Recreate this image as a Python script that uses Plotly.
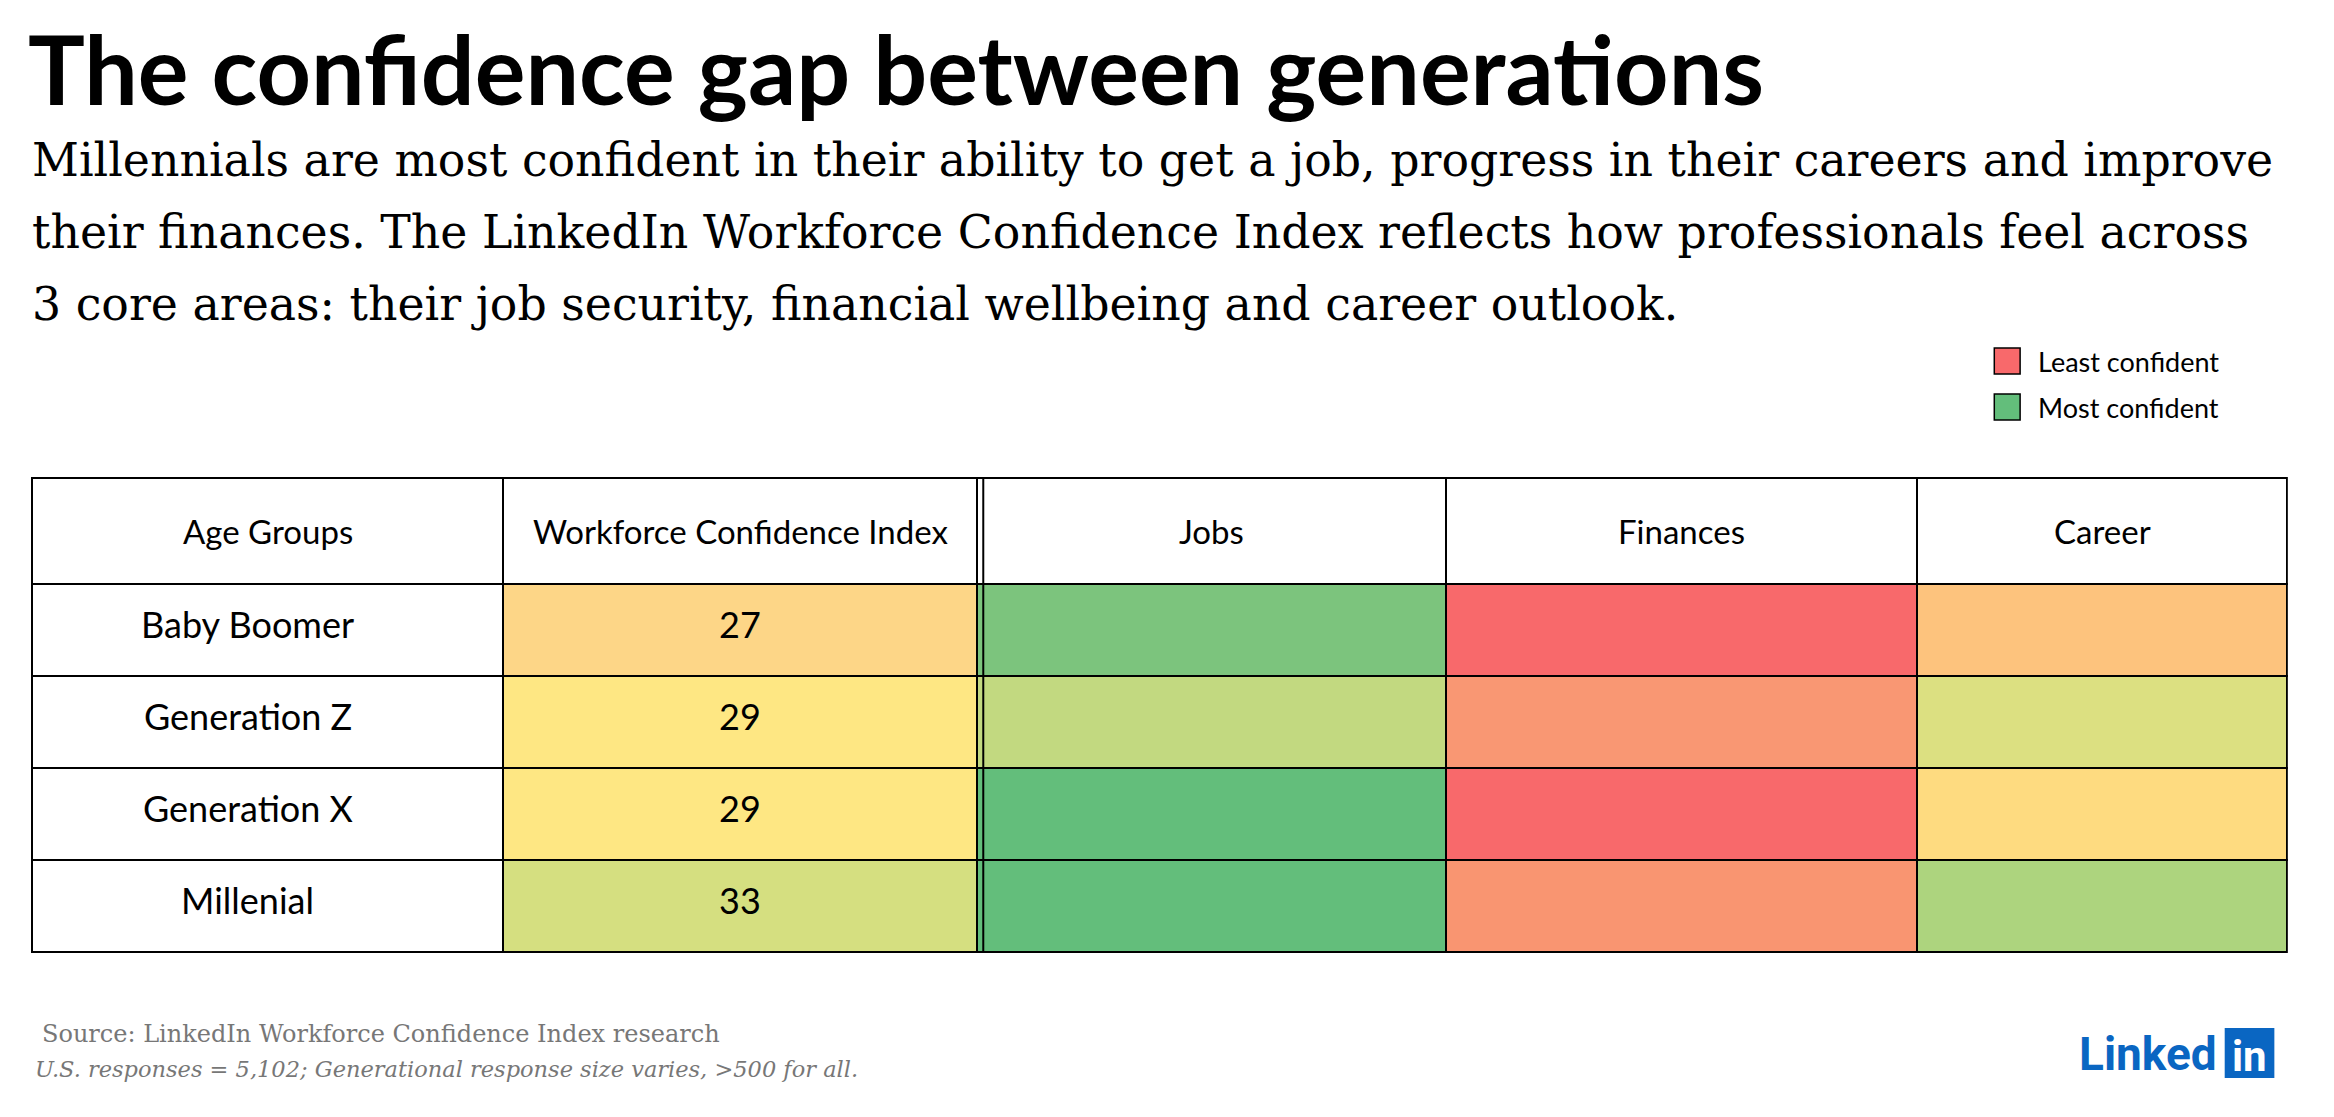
import plotly.graph_objects as go

W, H = 2334, 1117
headers = ["Age Groups", "Workforce Confidence Index", "Jobs", "Finances", "Career"]
groups = ["Baby Boomer", "Generation Z", "Generation X", "Millenial"]
wci = [27, 29, 29, 33]
wci_colors = ["#FDD687", "#FEE783", "#FEE783", "#D5DF80"]
jobs_colors = ["#7CC47D", "#C2D980", "#63BE7B", "#63BE7B"]
fin_colors = ["#F8696B", "#F99773", "#F8696B", "#F99571"]
career_colors = ["#FDC37D", "#DCE081", "#FEDB80", "#ADD47E"]
legend_labels = ["Least confident", "Most confident"]
legend_colors = ["#F8696B", "#63BE7B"]

OX, OY = -8, -12
col_edges = [c + OX for c in [32, 507, 984, 1456, 1931, 2303]]
row_top, head_h, row_h = 482 + OY, 106, 92
widths = [col_edges[i+1]-col_edges[i] for i in range(5)]

fig = go.Figure()
fig.add_trace(go.Table(
    domain=dict(x=[col_edges[0]/W, col_edges[-1]/W], y=[1-(row_top+head_h+4*row_h+6)/H, 1-row_top/H]),
    columnwidth=widths,
    header=dict(values=[""]*5, height=head_h, fill_color="white", line=dict(color="black", width=2)),
    cells=dict(values=[[""]*4]*5, height=row_h,
               fill_color=[["white"]*4, wci_colors, jobs_colors, fin_colors, career_colors],
               line=dict(color="black", width=2)),
))

fig.update_layout(
    autosize=True, margin=dict(l=0, r=0, t=0, b=0),
    paper_bgcolor="white", plot_bgcolor="white",
    xaxis=dict(range=[0, W], visible=False, fixedrange=True),
    yaxis=dict(range=[H, 0], visible=False, fixedrange=True),
    showlegend=False,
)

def txt(x, y, s, size, family, color="black", anchor="left", bold=False, italic=False):
    if bold:
        s = "<b>" + s + "</b>"
    if italic:
        s = "<i>" + s + "</i>"
    fig.add_annotation(x=x, y=y, xref="x", yref="y", text=s, showarrow=False,
                       xanchor=anchor, yanchor="middle",
                       font=dict(size=size, family=family, color=color))

txt(26 + OX, 72 + OY, "The confidence gap between generations", 95, "Lato", bold=True)
sub = ["Millennials are most confident in their ability to get a job, progress in their careers and improve",
       "their finances. The LinkedIn Workforce Confidence Index reflects how professionals feel across",
       "3 core areas: their job security, financial wellbeing and career outlook."]
for i, s in enumerate(sub):
    txt(30 + OX, 164 + OY + i*72, s, 45.8, "DejaVu Serif")

centers = [(col_edges[i]+col_edges[i+1])/2 for i in range(5)]
for i, h in enumerate(headers):
    txt(centers[i], row_top+head_h/2, h, 33, "Lato", anchor="center")
for r in range(4):
    y = row_top + head_h + r*row_h + row_h/2 - 6
    txt(centers[0]-20, y, groups[r], 36, "Lato", anchor="center")
    txt(centers[1], y, str(wci[r]), 36, "Lato", anchor="center")

for i, (lab, c) in enumerate(zip(legend_labels, legend_colors)):
    y0 = 352 + OY + i*46
    fig.add_shape(type="rect", xref="x", yref="y", x0=2000, x1=2026, y0=y0, y1=y0+26,
                  fillcolor=c, line=dict(color="black", width=1.5))
    txt(2042, y0+13, lab, 27, "Lato")

fig.add_shape(type="line", xref="x", yref="y", x0=col_edges[2]+6, x1=col_edges[2]+6,
              y0=row_top, y1=row_top+head_h+4*row_h, line=dict(color="black", width=2))

txt(32, 1026, "Source: LinkedIn Workforce Confidence Index research", 24, "DejaVu Serif", color="#777777")
txt(25, 1061, "U.S. responses = 5,102; Generational response size varies, >500 for all.", 22.5, "DejaVu Serif", color="#777777", italic=True)

txt(2226, 1046, "Linked", 46, "Roboto", color="#0A66C2", anchor="right", bold=True)
fig.add_shape(type="rect", xref="x", yref="y", x0=2232, x1=2282, y0=1020, y1=1070,
              fillcolor="#0A66C2", line=dict(width=0))
txt(2257, 1048, "in", 42, "Roboto", color="white", anchor="center", bold=True)

fig.write_html("out.html", default_width="100%", default_height="100vh")
